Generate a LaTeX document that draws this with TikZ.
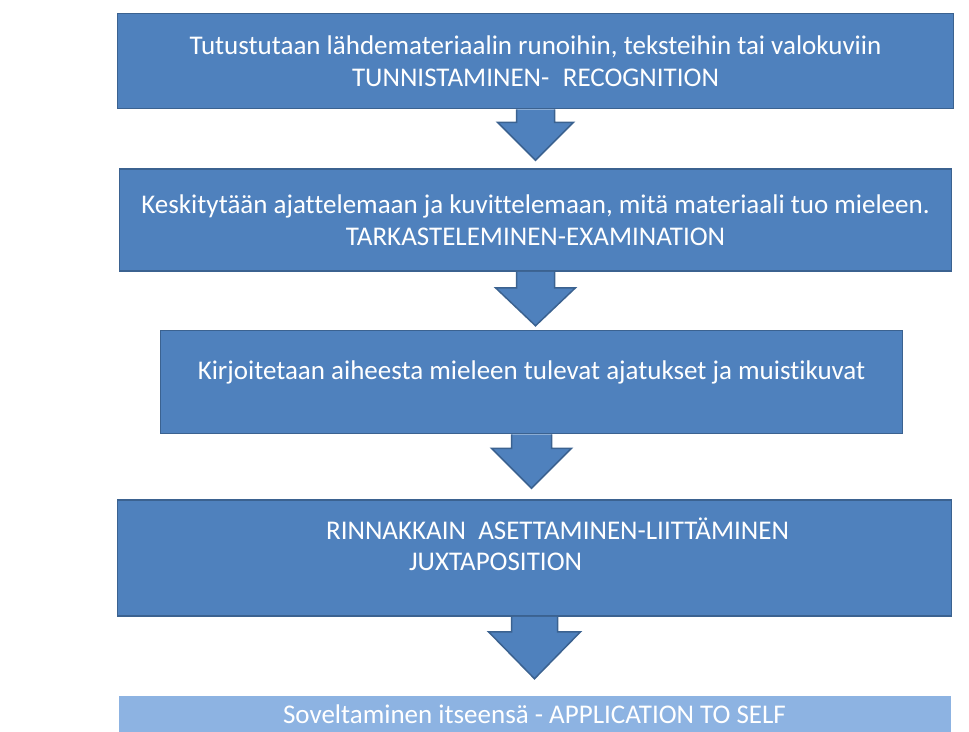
\documentclass[tikz,border=0pt]{standalone}
\usepackage{fontspec}
\setmainfont{Carlito}[Ligatures=CommonOff]
\usetikzlibrary{positioning}

\definecolor{boxblue}{HTML}{4F81BD}
\definecolor{boxedge}{HTML}{3B6290}
\definecolor{lightblue}{HTML}{8DB3E2}

\tikzset{
	stepbox/.style={rectangle, fill=boxblue, draw=boxedge, line width=1.5pt, text=white,
		align=center, inner sep=0pt, font=\fontsize{27}{31.5}\selectfont},
	blockarrow/.style={fill=boxblue, draw=boxedge, line width=1.5pt, line join=miter},
}

\begin{document}
\begin{tikzpicture}[x=1pt,y=1pt]
			\useasboundingbox (0,0) rectangle (969,-731);
			\node (b1) [stepbox, minimum width=836pt, minimum height=95pt] at (535.5,-61)
				{Tutustutaan lähdemateriaalin runoihin, teksteihin tai valokuviin\\
				TUNNISTAMINEN-\hspace{0.5em}RECOGNITION};
			\node (b2) [stepbox, minimum width=832pt, minimum height=102pt, below=59pt of b1]
				{Keskitytään ajattelemaan ja kuvittelemaan, mitä materiaali tuo mieleen.\\
				TARKASTELEMINEN-EXAMINATION};
			\node (b3) [stepbox, minimum width=742pt, minimum height=103pt, text depth=24pt,
				below=58pt of b2, xshift=-4pt] {Kirjoitetaan aiheesta mieleen tulevat ajatukset ja muistikuvat};
			\node (b4) [stepbox, minimum width=834pt, minimum height=116pt, text depth=28pt, align=left,
				below=65pt of b3, xshift=3pt] {\hspace*{46pt}RINNAKKAIN\ \ ASETTAMINEN-LIITTÄMINEN\\
				\hspace*{129pt}JUXTAPOSITION};
			\node (b5) [stepbox, fill=lightblue, draw=none, minimum width=832pt, minimum height=38pt,
				below=78pt of b4] {Soveltaminen itseensä - APPLICATION TO SELF};
			% block arrows hang under each box
			\foreach \a/\sw/\hw/\hd/\len in {b1/19/38/13/51, b2/19/40/16/54, b3/20/40/14/54, b4/23/46/15/62}
				\draw [blockarrow] (\a.south) ++(-\sw,0) -- ++(0,-\hd) -- ++(\sw-\hw,0)
					-- ++(\hw,\hd-\len) -- ++(\hw,\len-\hd) -- ++(\sw-\hw,0) -- ++(0,\hd);
		\end{tikzpicture}
\end{document}
